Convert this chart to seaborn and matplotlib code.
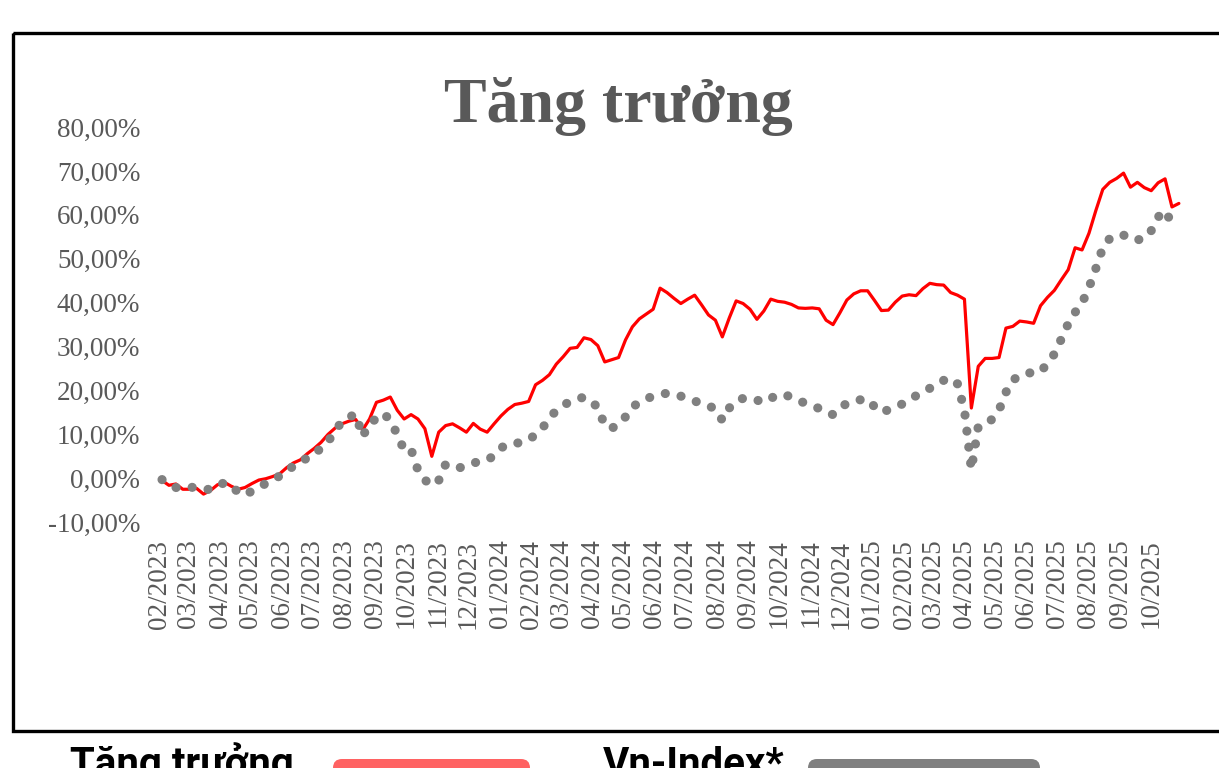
import numpy as np
import pandas as pd
import matplotlib
matplotlib.use("Agg")
import matplotlib.pyplot as plt
from matplotlib.patches import Rectangle, FancyBboxPatch
from matplotlib.ticker import FuncFormatter
import seaborn as sns

# ==============================
# Data (roughly weekly, % growth since start)
# ==============================

START_DATE = "2023-02-03"
STEP = "163h"

GROWTH = [
    -0.5, -1.6, -1.3, -2.5, -2.5, -2.3, -3.6, -2.8, -1.5, -0.9,
    -1.8, -2.5, -2.1, -1.2, -0.4, -0.1, 0.4, 1.0, 2.4, 3.5,
    4.2, 5.6, 6.8, 8.2, 10.0, 11.4, 12.4, 13.0, 13.4, 11.0,
    13.5, 17.3, 17.8, 18.5, 15.5, 13.5, 14.5, 13.5, 11.3, 5.0,
    10.5, 12.0, 12.4, 11.5, 10.5, 12.5, 11.2, 10.5, 12.4, 14.2,
    15.7, 16.8, 17.1, 17.5, 21.3, 22.3, 23.6, 26.0, 27.7, 29.6,
    29.8, 32.0, 31.6, 30.2, 26.5, 27.0, 27.5, 31.5, 34.5, 36.3,
    37.4, 38.5, 43.3, 42.3, 41.0, 39.8, 40.8, 41.7, 39.5, 37.2,
    36.0, 32.2, 36.5, 40.4, 39.8, 38.5, 36.2, 38.1, 40.8, 40.3,
    40.1, 39.6, 38.8, 38.7, 38.8, 38.6, 36.0, 35.0, 37.7, 40.6,
    42.0, 42.7, 42.7, 40.5, 38.2, 38.3, 40.1, 41.5, 41.8, 41.6,
    43.2, 44.4, 44.1, 44.0, 42.3, 41.7, 40.8, 16.0, 25.5, 27.3,
    27.3, 27.5, 34.2, 34.6, 35.8, 35.6, 35.3, 39.3, 41.2, 42.8,
    45.2, 47.5, 52.5, 52.0, 55.8, 61.0, 65.8, 67.4, 68.3, 69.5,
    66.3, 67.4, 66.2, 65.5, 67.3, 68.2, 61.8, 62.6,
]

VNINDEX = [
    -0.3, -1.3, -2.1, -2.2, -2.1, -2.0, -2.4, -2.6, -1.8, -1.0,
    -1.6, -3.2, -3.8, -2.9, -2.0, -1.2, -0.3, 0.5, 1.6, 2.8,
    3.8, 4.6, 5.5, 6.9, 8.4, 10.6, 13.0, 13.9, 14.6, 9.5,
    12.5, 13.6, 14.8, 13.2, 10.0, 6.4, 6.6, 1.8, -0.4, -1.6,
    -0.5, 3.2, 2.8, 2.4, 2.8, 3.5, 3.8, 4.1, 5.2, 6.9,
    7.8, 8.0, 8.1, 8.8, 9.9, 11.4, 13.8, 15.4, 16.6, 17.5,
    18.0, 18.5, 17.5, 16.2, 12.0, 11.4, 12.2, 14.0, 16.3, 17.2,
    18.1, 18.7, 19.0, 19.4, 19.1, 18.7, 18.2, 17.6, 17.0, 16.5,
    15.8, 13.2, 16.0, 17.6, 18.2, 18.3, 17.8, 17.3, 18.2, 19.0,
    19.1, 18.4, 17.7, 17.1, 16.5, 15.9, 15.0, 14.5, 15.9, 17.1,
    17.5, 17.9, 18.0, 16.3, 15.0, 15.6, 16.3, 16.9, 17.8, 18.8,
    19.7, 20.5, 21.3, 22.3, 22.8, 21.5, 15.5, 2.0, 11.8, 12.6,
    13.4, 15.5, 19.6, 22.4, 23.3, 24.0, 24.0, 24.2, 26.2, 28.3,
    31.7, 35.2, 37.8, 39.9, 43.4, 47.8, 52.5, 54.6, 55.4, 55.4,
    54.4, 54.3, 54.6, 56.4, 59.5, 61.0, 58.0, np.nan,
]

Y_TICKS = [-10, 0, 10, 20, 30, 40, 50, 60, 70, 80]
TICK_MONTHS = pd.date_range("2023-02-01", "2025-10-01", freq="MS")

TITLE = "Tăng trưởng"
LEGEND_LABELS = ["Tăng trưởng", "Vn-Index*"]

RED = "#FF0000"
GRAY = "#808080"
TEXT_GRAY = "#595959"

W, H = 1219, 768


def build_frame():
    dates = pd.date_range(START_DATE, periods=len(GROWTH), freq=STEP)
    return pd.DataFrame({"date": dates, "growth": GROWTH, "vnindex": VNINDEX})


def main():
    df = build_frame()

    sns.set_theme(style="white")
    plt.rcParams["font.family"] = ["Liberation Serif", "DejaVu Serif"]

    fig = plt.figure(figsize=(W / 100, H / 100), dpi=100)
    fig.patch.set_facecolor("white")

    # pixel-space overlay for frame, title and bottom legend
    bg = fig.add_axes([0, 0, 1, 1], zorder=0)
    bg.set_xlim(0, W)
    bg.set_ylim(H, 0)
    bg.axis("off")

    bg.add_patch(Rectangle((13, 33), W + 20, 698, fill=False,
                           edgecolor="black", linewidth=2.4))
    bg.text(618, 122, TITLE, ha="center", va="baseline", fontsize=46,
            fontweight="bold", color=TEXT_GRAY, family="Liberation Serif")

    bg.text(70, 776, LEGEND_LABELS[0], ha="left", va="baseline",
            fontsize=29, fontweight="bold", color="black", family="Roboto")
    bg.text(603, 776, LEGEND_LABELS[1], ha="left", va="baseline",
            fontsize=29, fontweight="bold", color="black", family="Roboto")
    bg.add_patch(FancyBboxPatch((333, 759), 197, 40,
                                boxstyle="round,pad=0,rounding_size=9",
                                facecolor="#FF6262", edgecolor="none"))
    bg.add_patch(FancyBboxPatch((808, 759), 232, 40,
                                boxstyle="round,pad=0,rounding_size=9",
                                facecolor=GRAY, edgecolor="none"))

    # main chart
    left, right, top, bottom = 150, 1195, 120, 530
    ax = fig.add_axes([left / W, 1 - bottom / H, (right - left) / W,
                       (bottom - top) / H], zorder=1)
    ax.patch.set_alpha(0)

    sns.lineplot(data=df, x="date", y="growth", ax=ax, color=RED,
                 linewidth=2.3, zorder=2)
    sns.lineplot(data=df, x="date", y="vnindex", ax=ax, color=GRAY,
                 linewidth=6.6, linestyle=(0, (0.01, 1.75)),
                 dash_capstyle="round", zorder=3)

    start = pd.Timestamp(START_DATE)
    ax.set_xlim(start - pd.Timedelta(days=11.8),
                start + pd.Timedelta(days=1014.2))
    ax.set_ylim(-11.78, 81.6)

    ax.set_yticks(Y_TICKS)
    ax.yaxis.set_major_formatter(
        FuncFormatter(lambda v, p: f"{v:.2f}".replace(".", ",") + "%"))
    ax.set_xticks(TICK_MONTHS)
    ax.set_xticklabels([d.strftime("%m/%Y") for d in TICK_MONTHS],
                       rotation=90)

    ax.tick_params(axis="both", length=0, labelsize=19.5, labelcolor=TEXT_GRAY)
    ax.tick_params(axis="y", pad=7)
    ax.tick_params(axis="x", pad=7)
    ax.set_xlabel("")
    ax.set_ylabel("")
    ax.grid(False)
    for s in ax.spines.values():
        s.set_visible(False)

    fig.savefig("out.png", dpi=100)
    plt.close(fig)


if __name__ == "__main__":
    main()
